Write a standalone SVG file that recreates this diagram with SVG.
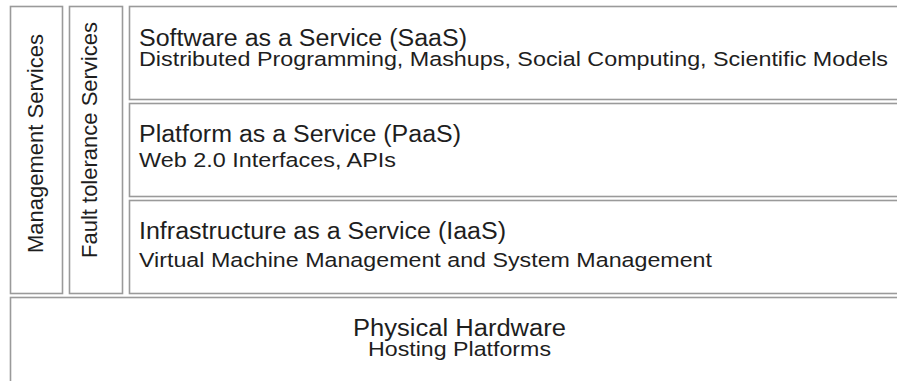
<svg xmlns="http://www.w3.org/2000/svg" width="897" height="381" viewBox="0 0 897 381">
<style>
.box{fill:#ffffff;stroke:#9a9a9a;stroke-width:1.6}
.t{font-family:"Liberation Sans",Arial,sans-serif;fill:#1e1e1e}
.h{font-size:23px}
.s{font-size:20.5px}
.v{font-size:22px}
</style>
<rect width="897" height="381" fill="#ffffff"/>
<g id="management">
<rect class="box" x="10.5" y="6.5" width="52" height="287"/>
<text class="t v" transform="translate(43,253) rotate(-90)">Management Services</text>
</g>
<g id="fault-tolerance">
<rect class="box" x="69.5" y="6.5" width="53" height="287"/>
<text class="t v" transform="translate(97,258) rotate(-90)">Fault tolerance Services</text>
</g>
<g id="saas">
<rect class="box" x="129.5" y="6.5" width="790" height="93"/>
<text class="t h" x="139" y="46" textLength="328" lengthAdjust="spacingAndGlyphs">Software as a Service (SaaS)</text>
<text class="t s" x="139" y="66" textLength="749" lengthAdjust="spacingAndGlyphs">Distributed Programming, Mashups, Social Computing, Scientific Models</text>
</g>
<g id="paas">
<rect class="box" x="129.5" y="103.5" width="790" height="93"/>
<text class="t h" x="139" y="142" textLength="322" lengthAdjust="spacingAndGlyphs">Platform as a Service (PaaS)</text>
<text class="t s" x="139" y="167" textLength="257" lengthAdjust="spacingAndGlyphs">Web 2.0 Interfaces, APIs</text>
</g>
<g id="iaas">
<rect class="box" x="129.5" y="200.5" width="790" height="93"/>
<text class="t h" x="139" y="239" textLength="367" lengthAdjust="spacingAndGlyphs">Infrastructure as a Service (IaaS)</text>
<text class="t s" x="139" y="267" textLength="573" lengthAdjust="spacingAndGlyphs">Virtual Machine Management and System Management</text>
</g>
<g id="physical-hardware">
<rect class="box" x="10.5" y="297.5" width="898" height="100"/>
<text class="t h" x="353" y="336" textLength="213" lengthAdjust="spacingAndGlyphs">Physical Hardware</text>
<text class="t s" x="368" y="356" textLength="183" lengthAdjust="spacingAndGlyphs">Hosting Platforms</text>
</g>
<g id="connectors"></g>
</svg>
